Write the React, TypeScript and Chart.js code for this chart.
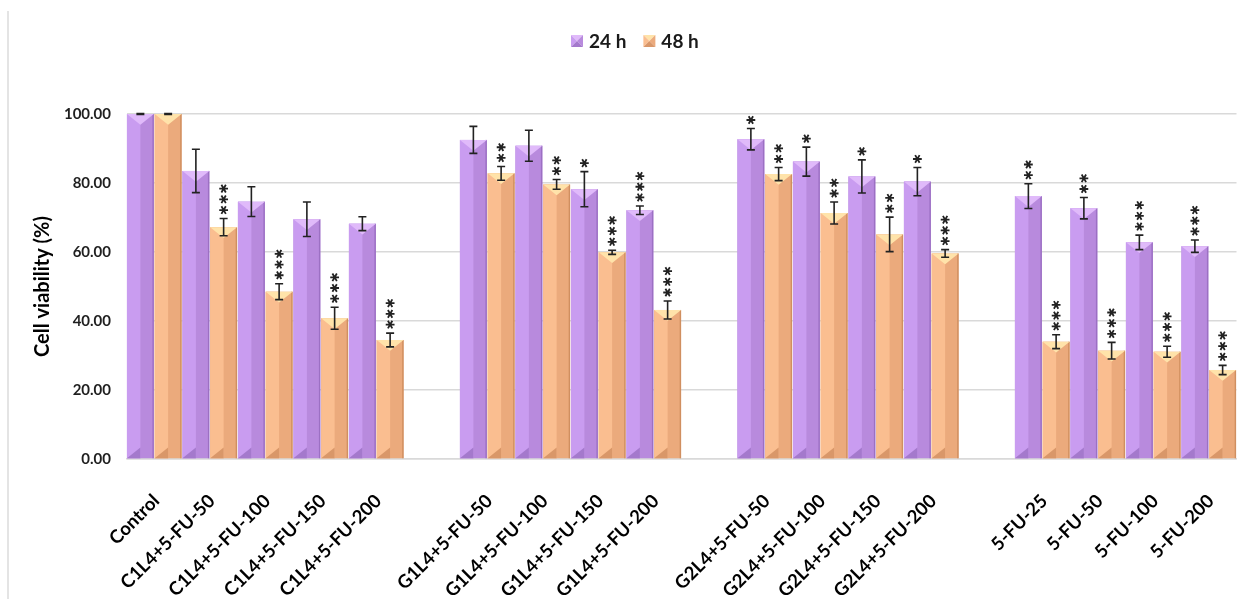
import { useEffect, useRef } from 'react';
import { Chart, registerables } from 'chart.js';

Chart.register(...registerables);

// Treatment groups; empty labels are spacer slots between groups
const categories = [
  'Control', 'C1L4+5-FU-50', 'C1L4+5-FU-100', 'C1L4+5-FU-150', 'C1L4+5-FU-200',
  '',
  'G1L4+5-FU-50', 'G1L4+5-FU-100', 'G1L4+5-FU-150', 'G1L4+5-FU-200',
  '',
  'G2L4+5-FU-50', 'G2L4+5-FU-100', 'G2L4+5-FU-150', 'G2L4+5-FU-200',
  '',
  '5-FU-25', '5-FU-50', '5-FU-100', '5-FU-200',
];

const seriesNames = ['24 h', '48 h'];

// Mean cell viability (%)
const viability24h = [100, 83.5, 74.6, 69.5, 68.2, null, 92.5, 90.8, 78.2, 72.1, null, 92.7, 86.2, 81.9, 80.4, null, 76.2, 72.7, 62.8, 61.7];
const viability48h = [100, 67.2, 48.5, 40.8, 34.5, null, 82.8, 79.6, 59.9, 43.2, null, 82.6, 71.3, 65.1, 59.6, null, 34.0, 31.4, 31.1, 25.8];

// Standard deviation
const sd24h = [0.1, 6.3, 4.3, 5.0, 2.0, null, 3.9, 4.5, 5.1, 1.25, null, 3.1, 4.2, 4.8, 4.1, null, 3.6, 3.1, 2.1, 1.8];
const sd48h = [0.1, 2.5, 2.3, 3.2, 2.0, null, 2.0, 1.4, 0.6, 2.6, null, 1.9, 3.2, 5.0, 1.1, null, 2.0, 2.4, 1.6, 1.35];

// Significance markers vs. control
const sig24h = ['', '', '', '', '', '', '', '', '*', '***', '', '*', '*', '*', '*', '', '**', '**', '***', '***'];
const sig48h = ['', '***', '***', '***', '***', '', '**', '**', '***', '***', '', '**', '**', '**', '***', '', '***', '***', '***', '***'];

const yMin = 0;
const yMax = 100;
const yStep = 20;

const PURPLE = { base: '#B88ADD', light: '#C99CF0', top: '#E0BAFA', dark: '#A479CC', edge: '#9C70C3' };
const ORANGE = { base: '#EBAA7C', light: '#FABE90', top: '#FFE3AA', dark: '#D99769', edge: '#D08F60' };
const palettes = [PURPLE, ORANGE];
const sdSets = [sd24h, sd48h];
const sigSets = [sig24h, sig48h];

const FONT = 'Lato, "Open Sans", sans-serif';

function drawStar(ctx: CanvasRenderingContext2D, cx: number, cy: number, r: number) {
  ctx.beginPath();
  for (let k = 0; k < 3; k++) {
    const a = (k * Math.PI) / 3;
    ctx.moveTo(cx - r * Math.cos(a), cy - r * Math.sin(a));
    ctx.lineTo(cx + r * Math.cos(a), cy + r * Math.sin(a));
  }
  ctx.stroke();
}

function drawLegendBox(ctx: CanvasRenderingContext2D, x: number, y: number, s: number, pal: typeof PURPLE) {
  const cx = x + s / 2, cy = y + s / 2;
  const tri = (ax: number, ay: number, bx: number, by: number, color: string) => {
    ctx.fillStyle = color;
    ctx.beginPath();
    ctx.moveTo(ax, ay);
    ctx.lineTo(bx, by);
    ctx.lineTo(cx, cy);
    ctx.closePath();
    ctx.fill();
  };
  tri(x, y, x + s, y, pal.top);
  tri(x, y, x, y + s, pal.light);
  tri(x + s, y, x + s, y + s, pal.base);
  tri(x, y + s, x + s, y + s, pal.dark);
}

// Bevelled bar faces, error bars and significance stars
const barDecorations = {
  id: 'barDecorations',
  afterDatasetsDraw(chart: any) {
    const ctx: CanvasRenderingContext2D = chart.ctx;
    const yScale = chart.scales.y;
    chart.data.datasets.forEach((ds: any, di: number) => {
      const meta = chart.getDatasetMeta(di);
      const pal = palettes[di];
      meta.data.forEach((bar: any, i: number) => {
        const v = ds.data[i];
        if (v == null) return;
        const { x, y, base, width } = bar.getProps(['x', 'y', 'base', 'width'], true);
        const l = x - width / 2;
        const r = x + width / 2;
        const h = Math.min(width * 0.4, (base - y) / 2);
        ctx.save();
        ctx.fillStyle = pal.light;
        ctx.fillRect(l, y, x - l, base - y);
        ctx.fillStyle = pal.edge;
        ctx.fillRect(r - 1.4, y, 1.4, base - y);
        ctx.fillStyle = pal.top;
        ctx.beginPath();
        ctx.moveTo(l, y);
        ctx.lineTo(r, y);
        ctx.lineTo(x, y + h);
        ctx.closePath();
        ctx.fill();
        ctx.fillStyle = pal.dark;
        ctx.beginPath();
        ctx.moveTo(l, base);
        ctx.lineTo(x, base - h);
        ctx.lineTo(x, base);
        ctx.closePath();
        ctx.fill();
        ctx.restore();
      });
    });

    ctx.save();
    ctx.strokeStyle = '#222222';
    ctx.lineWidth = 1.6;
    chart.data.datasets.forEach((ds: any, di: number) => {
      const meta = chart.getDatasetMeta(di);
      meta.data.forEach((bar: any, i: number) => {
        const v = ds.data[i];
        const e = sdSets[di][i];
        if (v == null || e == null) return;
        const x = bar.x;
        const yTop = yScale.getPixelForValue(v + e);
        const yBot = yScale.getPixelForValue(v - e);
        ctx.beginPath();
        ctx.moveTo(x, yTop);
        ctx.lineTo(x, yBot);
        ctx.moveTo(x - 4, yTop);
        ctx.lineTo(x + 4, yTop);
        ctx.moveTo(x - 4, yBot);
        ctx.lineTo(x + 4, yBot);
        ctx.stroke();
        const n = sigSets[di][i].length;
        ctx.lineWidth = 1.8;
        for (let k = 0; k < n; k++) {
          drawStar(ctx, x, yTop - 8.5 - k * 10.7, 4.4);
        }
        ctx.lineWidth = 1.6;
      });
    });
    ctx.restore();
  },
};

const topLegend = {
  id: 'topLegend',
  afterDraw(chart: any) {
    const ctx: CanvasRenderingContext2D = chart.ctx;
    ctx.save();
    ctx.font = `bold 19px ${FONT}`;
    ctx.textBaseline = 'middle';
    ctx.textAlign = 'left';
    let x = 571;
    const cy = 41;
    chart.data.datasets.forEach((ds: any, di: number) => {
      drawLegendBox(ctx, x, cy - 6, 12, palettes[di]);
      ctx.fillStyle = '#1A1A1A';
      ctx.fillText(ds.label, x + 18, cy + 1);
      x += 18 + ctx.measureText(ds.label).width + 17;
    });
    ctx.restore();
  },
};

export default function App() {
  const canvasRef = useRef<HTMLCanvasElement | null>(null);

  useEffect(() => {
    const canvas = canvasRef.current;
    if (!canvas) return;
    const chart = new Chart(canvas, {
      type: 'bar',
      data: {
        labels: categories,
        datasets: [
          { label: seriesNames[0], data: viability24h, backgroundColor: PURPLE.base, borderWidth: 0 },
          { label: seriesNames[1], data: viability48h, backgroundColor: ORANGE.base, borderWidth: 0 },
        ],
      },
      options: {
        responsive: false,
        animation: false,
        events: [],
        layout: { padding: { top: 114, right: 13.5, bottom: 0, left: 0 } },
        datasets: { bar: { categoryPercentage: 1, barPercentage: 0.97 } },
        plugins: {
          legend: { display: false },
          tooltip: { enabled: false },
        },
        scales: {
          x: {
            grid: { display: false },
            border: { display: true, color: '#D9D9D9', width: 1.5 },
            ticks: {
              autoSkip: false,
              maxRotation: 45,
              minRotation: 45,
              padding: 23,
              labelOffset: 2,
              color: '#000000',
              font: { family: FONT, size: 18.5, weight: 'bold' },
            },
            afterFit(scale: any) {
              scale.height = 140;
            },
          },
          y: {
            min: yMin,
            max: yMax,
            grid: { color: '#D9D9D9', lineWidth: 1.5, drawTicks: false },
            border: { display: false },
            ticks: {
              stepSize: yStep,
              padding: 15.5,
              color: '#1F1F1F',
              font: { family: FONT, size: 15, weight: 'bold' },
              callback: (v: any) => Number(v).toFixed(2),
            },
            title: {
              display: true,
              text: 'Cell viability (%)',
              color: '#000000',
              font: { family: FONT, size: 20, weight: 'bold' },
              padding: { top: 31, bottom: 0 },
            },
            afterFit(scale: any) {
              scale.width = 126.5;
            },
          },
        },
      },
      plugins: [barDecorations, topLegend],
    } as any);
    return () => chart.destroy();
  }, []);

  return (
    <div style={{ position: 'fixed', left: 0, top: 0, width: 1250, height: 599, background: '#FFFFFF' }}>
      <div style={{ position: 'absolute', left: 7, top: 11, width: 2, bottom: 0, background: '#E4E4E4' }} />
      <canvas ref={canvasRef} width={1250} height={599} style={{ display: 'block' }} />
    </div>
  );
}
